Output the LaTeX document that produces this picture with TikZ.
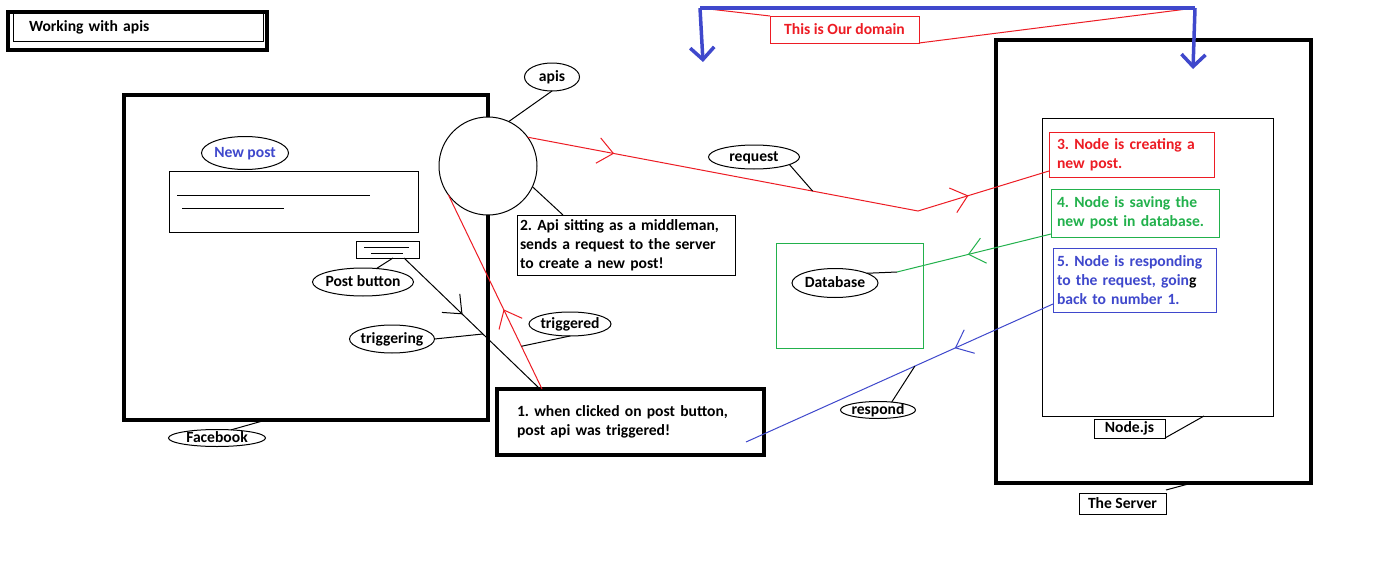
\documentclass[tikz,border=0pt]{standalone}
\usepackage{fontspec}
\setmainfont{Carlito}
\usetikzlibrary{shapes.geometric,arrows.meta,decorations.markings,calc}
\definecolor{pred}{HTML}{ED1C24}
\definecolor{pgreen}{HTML}{22B14C}
\definecolor{pblue}{HTML}{3F48CC}
\newcommand{\ctext}[1]{\smash{\makebox[0pt]{\raisebox{-0.3em}{#1}}}}
\begin{document}
\frenchspacing
\begin{tikzpicture}[x=1pt,y=-1pt,
  every node/.style={font=\fontsize{15.6}{19}\selectfont\bfseries},
  thin1/.style={line width=1pt},
  heavy/.style={line width=4pt},
  bubble/.style={ellipse, draw, line width=1pt, inner sep=0pt, outer sep=0pt},
  tbox/.style={rectangle, draw, anchor=north west, align=left, inner ysep=0pt, outer sep=0pt},
  plain/.style={rectangle, draw, anchor=north west, inner sep=0pt, outer sep=0pt},
  barb/.style={postaction={decorate, decoration={markings, mark=at position #1 with {\arrow{Straight Barb[angle=80:20pt]}}}}},
  domarrow/.style={pblue, line width=3.5pt, -{Straight Barb[angle=90:17pt]}},
]
\fill[white] (0,0) rectangle (1382,562);
\useasboundingbox (0,0) rectangle (1382,562);

% title
\node[plain, heavy, minimum width=259, minimum height=38] (ttlout) at (8,12) {};
\node[tbox, thin1, inner xsep=16pt, text width=218pt, minimum height=28] (ttl) at (13,13) {Working with apis};

% facebook frame
\node[plain, heavy, minimum width=364, minimum height=325] (fbbox) at (124,95) {};
\node[plain, thin1, minimum width=249, minimum height=61] (area) at (169,171) {};
\draw[thin1] (177,195) -- (370,195);
\draw[thin1] (182,208) -- (284,208);
\node[plain, thin1, minimum width=63, minimum height=17] (btn) at (356,241) {};
\draw[thin1] (364,247) -- (409,247);
\draw[thin1] (371,253) -- (403,253);

% api circle
\node[circle, draw, fill=white, thin1, minimum size=98, inner sep=0pt, outer sep=0pt] (api) at (488,166) {};

% ellipses
\node[bubble, minimum width=87, minimum height=33] (newpost) at (245,153) {\ctext{\color{pblue}New post}};
\node[bubble, minimum width=101, minimum height=28] (pb) at (363,282) {\ctext{Post button}};
\node[bubble, minimum width=85, minimum height=28] (trig) at (392,339) {\ctext{triggering}};
\node[bubble, minimum width=82, minimum height=24] (trd) at (570,324) {\ctext{triggered}};
\node[bubble, minimum width=55, minimum height=28] (apis) at (552,77) {\ctext{apis}};
\node[bubble, minimum width=91, minimum height=24] (req) at (754,157) {\ctext{request}};
\node[bubble, minimum width=86, minimum height=29] (db) at (835,283) {\ctext{Database}};
\node[bubble, minimum width=75, minimum height=17] (resp) at (878,410) {\ctext{respond}};
\node[bubble, minimum width=97, minimum height=17] (fb) at (217,438) {\ctext{Facebook}};

% text boxes
\node[tbox, thin1, inner xsep=3pt, text width=212pt, minimum height=60] (box2) at (517,215)
  {2. Api sitting as a middleman,\\sends a request to the server\\to create a new post!};
\node[tbox, line width=3.5pt, inner xsep=20pt, text width=227pt, minimum height=66] (box1) at (497,389)
  {1. when clicked on post button,\\post api was triggered!};

% database
\node[plain, pgreen, thin1, minimum width=147, minimum height=105] (dbbox) at (776,243) {};

% server
\node[plain, heavy, minimum width=315, minimum height=443] (server) at (996,40) {};
\node[plain, thin1, minimum width=231, minimum height=298] (inner) at (1042,118) {};
\node[tbox, pred, thin1, inner xsep=8pt, text width=149pt, minimum height=45] (box3) at (1049,132)
  {3. Node is creating a\\new post.};
\node[tbox, pgreen, thin1, inner xsep=6pt, text width=156pt, minimum height=48] (box4) at (1051,189)
  {4. Node is saving the\\new post in database.};
\node[tbox, pblue, thin1, inner xsep=4pt, text width=155pt, minimum height=64] (box5) at (1053,248)
  {5. Node is responding\\to the request, goin{\color{black}g}\\back to number 1.};
\node[plain, thin1, minimum width=71, minimum height=19] (njs) at (1094,419) {};
\node at (njs.center) {Node.js};
\node[plain, thin1, minimum width=87, minimum height=21] (srv) at (1079,493) {};
\node at (srv.center) {The Server};

% domain
\node[plain, pred, thin1, minimum width=149, minimum height=27] (dom) at (770,16) {};
\node[text=pred] at (dom.center) {This is Our domain};
\coordinate (dl) at (700,8);
\coordinate (dr) at (1195,8);
\coordinate (dlt) at (703,62);
\coordinate (drt) at (1193,69);
\draw[pred, thin1] (dl) -- (dom.north west);
\draw[pred, thin1] (dom.south east) -- (dr);
\draw[pblue, line width=3.5pt] (dl) -- (dr);
\draw[domarrow] (dl) -- (dlt);
\draw[domarrow] (dr) -- (drt);

% connectors
\draw[thin1] (apis.south) -- (api.65);
\draw[thin1] (api.-25) -- ($(box2.north west)+(46,0)$);
\draw[thin1] (pb.45) -- ($(btn.south)+(5.5,0)$);
\draw[thin1, barb=0.43] ($(btn.south east)+(-15,0)$) -- coordinate[pos=0.58] (tgpt) ($(box1.north west)+(43,0)$);
\draw[thin1] (trig.east) -- (tgpt);
\draw[pred, thin1, barb=0.41] ($(box1.north west)+(45,0)$) -- coordinate[pos=0.22] (tdpt) (api.-144);
\draw[thin1] (trd.south) -- (tdpt);
\draw[thin1] (fb.30) -- ($(fbbox.south west)+(142,0)$);

\coordinate (bend) at (918,211);
\draw[pred, thin1, barb=88pt, barb=450pt] (api.36) -- coordinate[pos=0.73] (rqpt) (bend) -- ($(box3.south west)+(0,-6)$);
\draw[thin1] (req.-12) -- (rqpt);

\coordinate (dbpt) at (897,272);
\draw[pgreen, thin1, barb=0.54] ($(box4.south west)+(0,-3)$) -- (dbpt);
\draw[thin1] (dbpt) -- (db.17);

\coordinate (rend) at (746,442);
\draw[pblue, thin1, barb=0.32] ($(box5.south west)+(0,-8)$) -- coordinate[pos=0.45] (rspt) (rend);
\draw[thin1] (resp.30) -- (rspt);

\draw[thin1] (njs.south east) -- ($(inner.south west)+(162,0)$);
\draw[thin1] ($(srv.north east)+(0,-3)$) -- ($(server.south west)+(196,0)$);
\end{tikzpicture}
\end{document}
